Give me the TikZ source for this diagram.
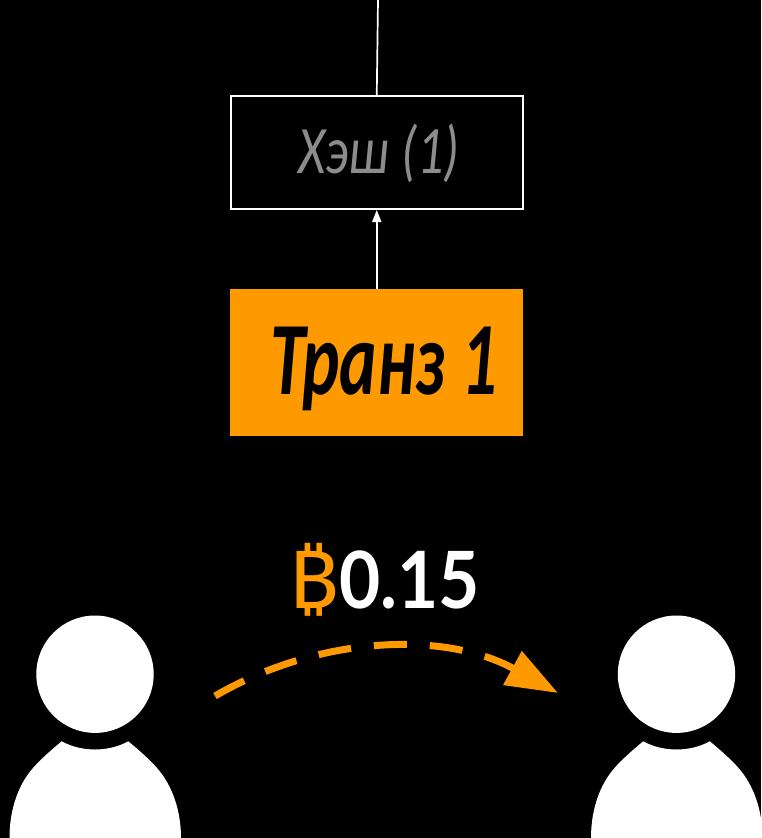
\documentclass[tikz,border=0pt]{standalone}
\usepackage{fontspec}
\usetikzlibrary{arrows.meta}
\setmainfont{Carlito}
\newfontfamily\amountfont{Lato}
\newfontfamily\coinfont{Noto Sans}
\definecolor{coinorange}{HTML}{FF9900}
\definecolor{hashgray}{HTML}{8C8C8C}
\tikzset{
  hashbox/.style={draw=white,line width=2pt,fill=black,minimum width=291.5pt,minimum height=113pt,inner sep=0pt},
  tranzbox/.style={fill=coinorange,minimum width=293pt,minimum height=147pt,inner sep=0pt},
  boxtext/.style={inner sep=0pt,anchor=base},
  wire/.style={draw=white,line width=1.7pt},
  person/.style={fill=white,draw=none},
}
\begin{document}
\begin{tikzpicture}[x=1pt,y=-1pt]
\fill[black] (0,0) rectangle (761,838);
\useasboundingbox (0,0) rectangle (761,838);
\node[hashbox] (hash) at (376.75,152.5) {};
\node[boxtext,text=hashgray] (hashtext) at (379,173.5) {\scalebox{0.75}[0.97]{\fontsize{70}{70}\selectfont\itshape Хэш (1)}};
\node[tranzbox] (tranz) at (376.75,362.5) {};
\node[boxtext,text=black] (tranztext) at (384,394.5) {\scalebox{0.68}[1]{\fontsize{104}{104}\selectfont\bfseries\itshape Транз 1}};
\coordinate (top) at (378,0);
\draw[wire] (hash.north) -- (top);
\draw[wire,-{Triangle[length=12pt,width=9pt]}] (tranz.north) -- (hash.south);
\node[inner sep=0pt,anchor=base] (amount) at (384,608) {\scalebox{1.1}[1]{\coinfont\fontsize{80}{80}\selectfont\color{coinorange}₿}\hspace{1pt}\scalebox{0.9}[1]{\amountfont\bfseries\fontsize{79}{79}\selectfont\color{white}0.15}};
\foreach \dx in {0,581.5}{
  \begin{scope}[xshift=\dx pt]
    \fill[person] (95,674.2) circle[radius=58.7];
    \fill[person] (61.7,741.3) .. controls (72,747) and (84,749.5) .. (95,749.5)
      .. controls (106,749.5) and (118,747) .. (128.3,741.3)
      .. controls (140,751) and (150,760) .. (157,768)
      .. controls (172,785) and (181,810) .. (181,838)
      -- (9.5,838) .. controls (9.5,810) and (18,785) .. (33,768)
      .. controls (40,760) and (50,751) .. (61.7,741.3) -- cycle;
  \end{scope}
}
\coordinate (from) at (215,696);
\coordinate (to) at (558,693);
\draw[coinorange,line width=7pt,dash pattern=on 33pt off 23pt,-{Triangle[length=52pt,width=37pt]}]
  (from) .. controls (320,635) and (445,631) .. (to);
\end{tikzpicture}
\end{document}
